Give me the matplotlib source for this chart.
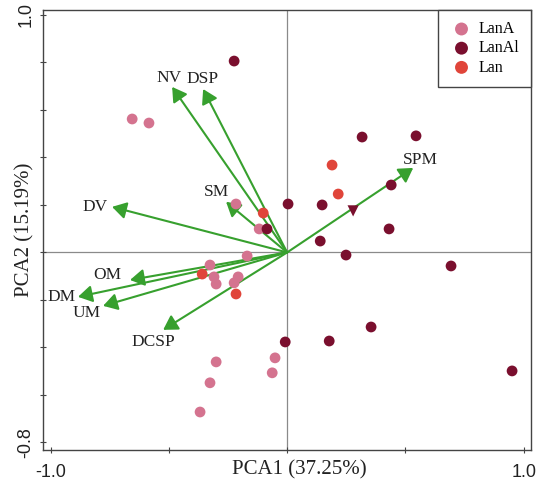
import numpy as np
import matplotlib.pyplot as plt

# group scores
lana_x = [-0.655, -0.584, -0.216, -0.118, -0.169, -0.326, -0.309, -0.300, -0.207, -0.224,
          -0.300, -0.326, -0.368, -0.051, -0.063]
lana_y = [0.562, 0.545, 0.204, 0.099, -0.015, -0.053, -0.103, -0.133, -0.103, -0.128,
          -0.461, -0.549, -0.672, -0.444, -0.507]

lanal_x = [-0.224, 0.004, -0.085, -0.008, 0.317, 0.545, 0.440, 0.148, 0.140, 0.249,
           0.431, 0.693, 0.951, 0.178, 0.355]
lanal_y = [0.806, 0.204, 0.099, -0.377, 0.486, 0.491, 0.284, 0.200, 0.048, -0.011,
           0.099, -0.057, -0.499, -0.373, -0.314]
lanal_tri = (0.279, 0.175)

lan_x = [-0.101, -0.359, -0.216, 0.190, 0.216]
lan_y = [0.166, -0.091, -0.175, 0.368, 0.246]

# loadings
var_names = ["NV", "DSP", "SM", "DV", "OM", "DM", "UM", "DCSP", "SPM"]
var_x = [-0.486, -0.355, -0.258, -0.740, -0.664, -0.884, -0.778, -0.524, 0.533]
var_y = [0.697, 0.688, 0.213, 0.192, -0.116, -0.187, -0.225, -0.326, 0.356]

# label offsets in pixels from the arrow tip
lab_off = {"NV": (-3, 9), "DSP": (-1, 10), "SM": (-10, 10), "DV": (-17, 0),
           "OM": (-23, 5), "DM": (-16, 0), "UM": (-16, -7), "DCSP": (-10, -12),
           "SPM": (7, 8)}

c_lana = "#D4738F"
c_lanal = "#7A0F2E"
c_lan = "#E0453A"
green = "#37A02E"

serif = "Liberation Serif"
sans = "Liberation Sans"

fig = plt.figure(figsize=(5.38, 4.84), dpi=100)
ax = fig.add_axes([43 / 538, 34 / 484, 488 / 538, 440 / 484])

ax.set_xlim(-1.032, 1.031)
ax.set_ylim(-0.832, 1.021)

ax.axhline(0, color="#8a8a8a", lw=0.9, zorder=1)
ax.axvline(0, color="#8a8a8a", lw=0.9, zorder=1)

for name, x, y in zip(var_names, var_x, var_y):
    ax.annotate("", xy=(x, y), xytext=(0, 0),
                arrowprops=dict(arrowstyle="-|>,head_length=0.5,head_width=0.3",
                                color=green, lw=1.5,
                                mutation_scale=17, shrinkA=0, shrinkB=0),
                zorder=2)
    dx, dy = lab_off[name]
    ax.annotate(name, xy=(x, y), xytext=(dx, dy), textcoords="offset pixels",
                ha="center", va="center", fontsize=12.5, family=serif,
                color="#222222", zorder=4)

ax.scatter(lana_x, lana_y, s=60, color=c_lana, edgecolors="none", zorder=3, label="LanA")
ax.scatter(lanal_x, lanal_y, s=60, color=c_lanal, edgecolors="none", zorder=3, label="LanAl")
ax.scatter(lan_x, lan_y, s=60, color=c_lan, edgecolors="none", zorder=3, label="Lan")
ax.scatter([lanal_tri[0]], [lanal_tri[1]], s=65, marker="v", color=c_lanal,
           edgecolors="none", zorder=3)

ax.set_xticks([-1.0, -0.5, 0.0, 0.5, 1.0])
ax.set_xticklabels(["-1.0", "", "", "", "1.0"])
yt = np.round(np.arange(-0.8, 1.01, 0.2), 1)
ax.set_yticks(yt)
ax.set_yticklabels(["-0.8"] + [""] * (len(yt) - 2) + ["1.0"])
ax.tick_params(direction="inout", length=4, width=0.8, color="#444444",
               labelsize=13, pad=8)
ax.tick_params(axis="y", labelrotation=90, pad=4)
for lbl in ax.get_yticklabels():
    lbl.set_va("center")
for lbl in ax.get_xticklabels() + ax.get_yticklabels():
    lbl.set_family(sans)
    lbl.set_color("#222222")

for sp in ax.spines.values():
    sp.set_color("#444444")
    sp.set_linewidth(1.0)

ax.set_xlabel("PCA1 (37.25%)", fontsize=15, family=serif, color="#222222", va="center")
ax.set_ylabel("PCA2 (15.19%)", fontsize=15, family=serif, color="#222222", va="center")
ax.xaxis.set_label_coords(0.525, -0.045)
ax.yaxis.set_label_coords(-0.037, 0.5)

leg = ax.legend(loc="upper right", borderaxespad=0, fancybox=False, framealpha=1,
                edgecolor="#444444", prop={"family": serif, "size": 11.5},
                handlelength=1.6, handletextpad=0.3, labelspacing=0.2,
                borderpad=0.7, markerscale=1.2)
leg.get_frame().set_linewidth(1.0)

plt.savefig("out.png", dpi=100)
